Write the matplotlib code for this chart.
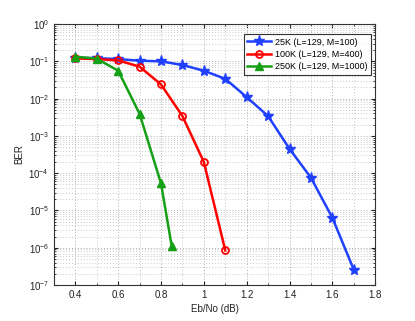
import matplotlib
matplotlib.use("Agg")
import matplotlib.pyplot as plt
from matplotlib.ticker import FixedLocator, NullFormatter, MultipleLocator

x_blue = [0.4, 0.5, 0.6, 0.7, 0.8, 0.9, 1.0, 1.1, 1.2, 1.3, 1.4, 1.5, 1.6, 1.7]
ber_blue = [0.125, 0.122, 0.115, 0.104, 0.1, 0.08, 0.056, 0.034, 0.011, 0.0034, 4.5e-4, 7.6e-5, 6.4e-6, 2.6e-7]
x_red = [0.4, 0.5, 0.6, 0.7, 0.8, 0.9, 1.0, 1.1]
ber_red = [0.12, 0.115, 0.106, 0.072, 0.024, 0.0034, 2e-4, 8.5e-7]
x_green = [0.4, 0.5, 0.6, 0.7, 0.8, 0.85]
ber_green = [0.133, 0.118, 0.056, 0.0039, 5.3e-5, 1.1e-6]
labels = ["25K (L=129, M=100)", "100K (L=129, M=400)", "250K (L=129, M=1000)"]
xticks = [0.4, 0.6, 0.8, 1.0, 1.2, 1.4, 1.6, 1.8]
xticklabels = ["0.4", "0.6", "0.8", "1", "1.2", "1.4", "1.6", "1.8"]
yexps = [-7, -6, -5, -4, -3, -2, -1, 0]

plt.rcParams['font.family'] = ['Liberation Sans', 'DejaVu Sans']
plt.rcParams['mathtext.fontset'] = 'custom'
plt.rcParams['mathtext.rm'] = 'Liberation Sans'

fig = plt.figure(figsize=(4.15, 3.21), dpi=100)
ax = fig.add_axes([0.130, 0.112, 0.774, 0.813])

ax.semilogy(x_blue, ber_blue, '-', color='#2040ff', lw=1.8, marker='*', ms=8, label=labels[0])
ax.semilogy(x_red, ber_red, '-', color='#ff0000', lw=1.8, marker='o', ms=5, mfc='none', mew=1.3, label=labels[1])
ax.semilogy(x_green, ber_green, '-', color='#15a015', lw=1.8, marker='^', ms=6, label=labels[2])

ax.set_xlim(0.3, 1.8)
ax.set_ylim(1e-7, 1)
ax.set_xticks(xticks)
ax.set_xticklabels(xticklabels)
ax.xaxis.set_minor_locator(MultipleLocator(0.1))
ax.set_yticks([10.0 ** e for e in yexps])
ax.set_yticklabels([r'$10^{%d}$' % e for e in yexps])
minors = [m * 10.0 ** e for e in yexps[:-1] for m in range(2, 10)]
ax.yaxis.set_minor_locator(FixedLocator(minors))
ax.yaxis.set_minor_formatter(NullFormatter())
ax.grid(True, which='major', ls=(0, (1, 2)), color='#b0b0b0', lw=0.7)
ax.grid(True, which='minor', ls=(0, (1, 2)), color='#c8c8c8', lw=0.7)
ax.tick_params(which='both', direction='in', labelsize=7, top=True, right=True, colors='#222222')
ax.tick_params(axis='x', which='minor', length=0)
ax.tick_params(which='major', length=3)
ax.tick_params(which='minor', length=1.5)
for s in ax.spines.values():
    s.set_color('#333333')

ax.set_xlabel('Eb/No (dB)', fontsize=7, labelpad=3, color='#222222')
ax.set_ylabel('BER', fontsize=7, labelpad=3, color='#222222')

leg = ax.legend(loc='upper right', bbox_to_anchor=(0.988, 0.962), fontsize=6.5, frameon=True,
                fancybox=False, edgecolor='black', borderaxespad=0.0, handlelength=2.6,
                borderpad=0.4, labelspacing=0.35, handletextpad=0.5)
leg.get_frame().set_linewidth(0.8)

fig.savefig('out.png', dpi=100)
